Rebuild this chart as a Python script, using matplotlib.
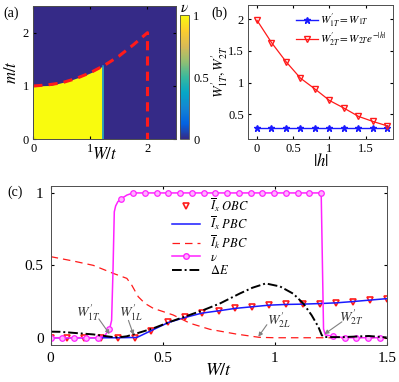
import numpy as np
import matplotlib
matplotlib.use("Agg")
import matplotlib.pyplot as plt
from matplotlib.colors import LinearSegmentedColormap, Normalize
from matplotlib.cm import ScalarMappable
from matplotlib.lines import Line2D

plt.rcParams['font.family'] = ['Liberation Serif', 'DejaVu Serif']
plt.rcParams['mathtext.fontset'] = 'stix'
plt.rcParams['font.size'] = 9
plt.rcParams['xtick.direction'] = 'in'
plt.rcParams['ytick.direction'] = 'in'
plt.rcParams['xtick.top'] = True
plt.rcParams['ytick.right'] = True
plt.rcParams['axes.edgecolor'] = '#4d4d4d'
plt.rcParams['axes.linewidth'] = 0.7

# ---- (a) phase diagram: topological region boundary and critical line
phase_w = [0.0, 0.3, 0.6, 0.9, 1.05, 1.225]
phase_m = [1.0, 1.01, 1.09, 1.2, 1.27, 1.38]
crit_w = [0.0, 0.25, 0.5, 0.75, 1.0, 1.25, 1.5, 1.75, 2.0, 2.0]
crit_m = [1.0, 1.02, 1.06, 1.14, 1.25, 1.39, 1.56, 1.77, 2.0, 0.0]

# ---- (b) critical disorder vs |h|
h_vals = [0.0, 0.2, 0.4, 0.6, 0.8, 1.0, 1.2, 1.4, 1.6, 1.8]
w1t_vals = [0.28, 0.28, 0.28, 0.28, 0.28, 0.28, 0.28, 0.28, 0.28, 0.28]
w2t_vals = [1.98, 1.63, 1.33, 1.07, 0.9, 0.72, 0.6, 0.47, 0.39, 0.32]

# ---- (c) observables vs W/t
obc_w = [0.0, 0.075, 0.15, 0.225, 0.3, 0.375, 0.45, 0.525, 0.6, 0.675, 0.75,
         0.825, 0.9, 0.975, 1.05, 1.125, 1.2, 1.275, 1.35, 1.425, 1.5]
obc_v = [0.0, 0.0, 0.0, 0.0, 0.0, 0.0, 0.05, 0.11, 0.14, 0.17, 0.186,
         0.203, 0.214, 0.225, 0.23, 0.232, 0.236, 0.241, 0.25, 0.26, 0.27]

pbc_w = [0.0, 0.3, 0.385, 0.45, 0.525, 0.6, 0.675, 0.75, 0.825, 0.9, 0.975,
         1.05, 1.125, 1.2, 1.275, 1.35, 1.425, 1.5]
pbc_v = [0.0, 0.0, 0.002, 0.05, 0.105, 0.14, 0.17, 0.186, 0.203, 0.214, 0.225,
         0.23, 0.232, 0.236, 0.241, 0.25, 0.26, 0.27]

ik_w = [0.0, 0.1, 0.19, 0.28, 0.34, 0.362, 0.391, 0.421, 0.458, 0.503, 0.547,
        0.622, 0.711, 0.83, 0.93, 1.0, 1.5]
ik_v = [0.56, 0.53, 0.5, 0.444, 0.41, 0.363, 0.283, 0.237, 0.203, 0.18, 0.157,
        0.1, 0.058, 0.025, 0.003, 0.0, 0.0]

nu_w = [0.0, 0.0525, 0.105, 0.1575, 0.21, 0.2625, 0.315, 0.3675, 0.42, 0.4725,
        0.525, 0.5775, 0.63, 0.6825, 0.735, 0.7875, 0.84, 0.8925, 0.945, 0.9975,
        1.05, 1.1025, 1.155, 1.2075, 1.26, 1.3125, 1.365, 1.4175, 1.47]
nu_v = [0.0, 0.0, 0.0, 0.0, 0.0, 0.058, 0.96, 1.0, 1.0, 1.0,
        1.0, 1.0, 1.0, 1.0, 1.0, 1.0, 1.0, 1.0, 1.0, 1.0,
        1.0, 1.0, 1.0, 1.0, 0.01, 0.0, 0.0, 0.0, 0.0]
nu_line_w = [0.0, 0.21, 0.24, 0.2625, 0.272, 0.278, 0.284, 0.29, 0.3, 0.315,
             0.34, 0.3675, 1.2075, 1.212, 1.218, 1.226, 1.26, 1.3125, 1.47]
nu_line_v = [0.0, 0.0, 0.012, 0.058, 0.12, 0.45, 0.87, 0.91, 0.94, 0.96,
             0.985, 1.0, 1.0, 0.6, 0.06, 0.02, 0.01, 0.0, 0.0]

de_w = [0.0, 0.042, 0.19, 0.265, 0.3, 0.34, 0.384, 0.458, 0.533, 0.607, 0.68,
        0.756, 0.845, 0.9, 0.96, 1.024, 1.083, 1.128, 1.165, 1.195, 1.21, 1.22,
        1.3, 1.42, 1.5]
de_v = [0.042, 0.041, 0.023, 0.007, 0.002, 0.01, 0.03, 0.065, 0.11, 0.15, 0.19,
        0.237, 0.306, 0.345, 0.375, 0.354, 0.304, 0.236, 0.155, 0.075, 0.018, 0.005,
        0.004, 0.012, 0.002]

# critical points marked in (c): label, text position, arrow start, arrow tip
marks = [(r"$W_{1T}^{\prime}$", (0.17, 0.17), (0.215, 0.13), (0.263, 0.025)),
         (r"$W_{1L}^{\prime}$", (0.36, 0.17), (0.347, 0.12), (0.37, 0.02)),
         (r"$W_{2L}^{\prime}$", (1.02, 0.125), (0.965, 0.09), (0.927, 0.007)),
         (r"$W_{2T}^{\prime}$", (1.34, 0.145), (1.3, 0.11), (1.222, 0.025))]

# parula-like colormap
parula = LinearSegmentedColormap.from_list('parula', [
    '#352a87', '#0363e1', '#1485d4', '#06a7c6', '#38b99e',
    '#92bf73', '#d9ba56', '#fcce2e', '#f9fb0e'])

fig = plt.figure(figsize=(3.99, 3.82), dpi=100)

# ---------------- (a)
ax_a = fig.add_axes([0.0835, 0.6353, 0.3577, 0.349])
ax_a.set_facecolor(parula(0.0))
ax_a.fill_between(phase_w, 0, phase_m, color=parula(1.0), lw=0)
ax_a.plot([phase_w[-1], phase_w[-1]], [0, phase_m[-1]], color=parula(0.3), lw=1.2)
ax_a.plot(crit_w, crit_m, color='#ff1a1a', lw=2.2, ls=(0, (3, 2)))
ax_a.set_xlim(0, 2.5)
ax_a.set_ylim(0, 2.5)
ax_a.set_xticks([0, 1, 2])
ax_a.set_yticks([0, 1, 2])
ax_a.set_xticklabels(['0', '1', '2'])
ax_a.set_yticklabels(['0', '1', '2'])
ax_a.tick_params(length=2, labelsize=9, pad=3)
ax_a.set_xlabel(r'$W/t$', fontsize=12, labelpad=-6)
ax_a.set_ylabel(r'$m/t$', fontsize=12, labelpad=2)
fig.text(0.008, 0.955, '(a)', fontsize=10)

cax = fig.add_axes([0.451, 0.6353, 0.0233, 0.3254])
cb = fig.colorbar(ScalarMappable(norm=Normalize(0, 1), cmap=parula), cax=cax, ticks=[0, 0.5, 1])
cb.ax.set_yticklabels(['0', '0.5', '1'])
cb.ax.tick_params(length=0, labelsize=9, pad=3)
cb.outline.set_linewidth(0.6)
cb.ax.set_title(r'$\nu$', fontsize=11, pad=0)

# ---------------- (b)
ax_b = fig.add_axes([0.6223, 0.6353, 0.3634, 0.3516])
ax_b.plot(h_vals, w1t_vals, color='#1a1aff', marker='*', ms=5, lw=1,
          label=r"$W_{1T}^{\prime}=W_{1T}$")
ax_b.plot(h_vals, w2t_vals, color='#ff1a1a', marker='v', ms=5, mfc='none', lw=0.9,
          label=r"$W_{2T}^{\prime}=W_{2T}e^{-|h|}$")
ax_b.set_xlim(-0.12, 1.88)
ax_b.set_ylim(0.11, 2.22)
ax_b.set_xticks([0, 0.5, 1, 1.5])
ax_b.set_xticklabels(['0', '0.5', '1', '1.5'])
ax_b.set_yticks([0.5, 1, 1.5, 2])
ax_b.set_yticklabels(['0.5', '1', '1.5', '2'])
ax_b.tick_params(length=2, labelsize=9, pad=3)
ax_b.set_xlabel(r'$|h|$', fontsize=12, labelpad=-2)
ax_b.set_ylabel(r"$W_{1T}^{\prime},W_{2T}^{\prime}$", fontsize=10, labelpad=-1)
ax_b.legend(loc='upper right', fontsize=8, frameon=False, handlelength=2.0,
            handletextpad=0.2, labelspacing=0.1, borderaxespad=0.2)
fig.text(0.53, 0.955, '(b)', fontsize=10)

# ---------------- (c)
ax_c = fig.add_axes([0.127, 0.0969, 0.8422, 0.417])
ax_c.plot(obc_w, obc_v, ls='none', marker='v', ms=5, mfc='none', mec='#ff1a1a', mew=1.2)
ax_c.plot(pbc_w, pbc_v, color='#1a1aff', lw=1.1)
ax_c.plot(ik_w, ik_v, color='#ff1a1a', lw=0.9, ls=(0, (6, 4)))
ax_c.plot(nu_line_w, nu_line_v, color='#ff22ff', lw=1.1)
ax_c.plot(nu_w, nu_v, ls='none', marker='o', ms=4, mfc='#ffb3ff', mec='#ff22ff', mew=0.9)
ax_c.plot(de_w, de_v, color='black', lw=1.4, ls=(0, (5, 1.5, 1, 1.5)))

for label, txt_xy, start_xy, tip_xy in marks:
    ax_c.text(txt_xy[0], txt_xy[1], label, fontsize=10, ha='center', va='center',
              color='#333333')
    ax_c.annotate('', xy=tip_xy, xytext=start_xy,
                  arrowprops=dict(arrowstyle='-|>', color='#808080', lw=0.8,
                                  mutation_scale=6, shrinkA=0, shrinkB=0))

handles = [
    Line2D([], [], ls='none', marker='v', ms=5, mfc='none', mec='#ff1a1a', mew=1.2),
    Line2D([], [], color='#1a1aff', lw=1.1),
    Line2D([], [], color='#ff1a1a', lw=0.9, ls=(0, (6, 4))),
    Line2D([], [], color='#ff22ff', lw=1.1, marker='o', ms=4, mfc='#ffb3ff', mec='#ff22ff'),
    Line2D([], [], color='black', lw=1.4, ls=(0, (5, 1.5, 1, 1.5))),
]
labels = [r'$\overline{I}_x\ OBC$', r'$\overline{I}_x\ PBC$', r'$\overline{I}_k\ PBC$',
          r'$\nu$', r'$\Delta E$']
ax_c.legend(handles, labels, loc='upper left', bbox_to_anchor=(0.36, 0.935), fontsize=9,
            frameon=False, handlelength=2.3, handletextpad=0.8, labelspacing=0.05,
            borderpad=0, borderaxespad=0)

ax_c.set_xlim(0, 1.5)
ax_c.set_ylim(-0.05, 1.05)
ax_c.set_xticks([0, 0.5, 1, 1.5])
ax_c.set_xticklabels(['0', '0.5', '1', '1.5'])
ax_c.set_yticks([0, 0.5, 1])
ax_c.set_yticklabels(['0', '0.5', '1'])
ax_c.tick_params(length=2.5, labelsize=11, pad=5)
ax_c.set_xlabel(r'$W/t$', fontsize=13, labelpad=-2)
fig.text(0.018, 0.487, '(c)', fontsize=10)

fig.savefig('out.png', dpi=100)
